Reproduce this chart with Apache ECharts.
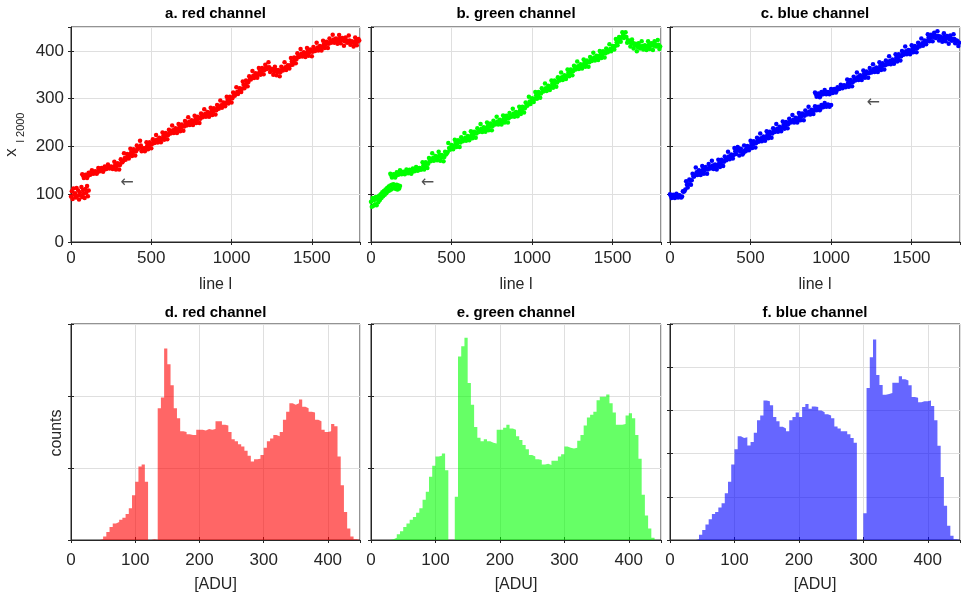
<!DOCTYPE html>
<html><head><meta charset="utf-8">
<script src="https://cdn.jsdelivr.net/npm/echarts@6/dist/echarts.min.js"></script>
<style>html,body{margin:0;padding:0;background:#fff}#c{width:961px;height:592px}</style>
</head><body><div id="c"></div>
<script>
// ---------------- DATA ----------------
// Panel titles
const titlesTop = ['a. red channel', 'b. green channel', 'c. blue channel'];
const titlesBottom = ['d. red channel', 'e. green channel', 'f. blue channel'];

// Scatter segments: line index = start + i*step, value = x_l,2000
const redSegA_start = 0, redSegA_step = 5;
const redSegA = [95,106,90,112,99,102,93,113,97,108,89,104,98,115,94,109,101,92,111,103,117,96,108];
const redSegB_start = 70, redSegB_step = 10;
const redSegB = [
142,134,141,134,145,141,150,143,148,143,
155,148,155,147,158,153,162,154,158,153,
168,152,165,152,173,167,186,172,184,175,
195,180,194,181,202,195,212,190,196,190,
209,194,209,196,215,207,224,208,218,209,
229,214,228,215,235,227,244,228,238,228,
247,232,246,233,253,244,261,245,255,245,
264,249,262,249,269,261,278,262,272,262,
281,266,280,267,287,279,296,281,292,284,
304,290,304,292,313,306,324,310,322,314,
336,322,338,326,347,340,358,343,353,344,
364,350,364,351,371,362,376,356,362,350,
367,349,360,347,367,359,376,360,370,363,
385,371,386,374,395,387,404,388,397,387,
406,390,403,389,408,400,417,401,410,401,
421,406,419,406,426,417,434,417,426,415,
433,416,427,411,428,417,432,413,420,409,
428,412,425];
const redSegC_start = 75, redSegC_step = 10;
const redSegC = [
139,137,140,138,142,143,146,145,147,146,
152,151,154,151,155,155,158,156,157,156,
161,159,162,161,167,170,176,177,182,182,
188,187,191,190,196,198,202,195,194,197,
202,201,206,205,209,210,214,213,216,216,
222,221,225,224,229,230,234,233,236,235,
240,239,243,242,247,247,251,250,253,252,
257,256,259,258,263,264,268,267,270,269,
274,273,277,276,281,282,286,286,290,291,
297,297,301,301,307,309,314,315,320,321,
329,329,335,335,341,343,348,348,351,351,
357,357,361,360,365,365,366,361,360,357,
360,356,357,356,361,362,366,365,368,370,
378,378,383,383,389,390,394,393,395,394,
399,397,400,398,402,403,407,406,408,408,
414,413,416,415,420,420,424,422,424,422,
426,423,424,420,422,420,422,418,418,416,
421,419,422];

const greenSegA_start = 0, greenSegA_step = 5;
const greenSegA = [84,74,92,76,88,79,94,77,90,83,97,88,100,92,104,96,107,99,110,102,113,106,116,108,118,110,120,112,121,113,119,111,120,110,118,112,117];
const greenSegB_start = 120, greenSegB_step = 10;
const greenSegB = [
143,135,142,135,146,141,150,142,147,142,
152,144,151,143,154,148,157,149,155,151,
167,152,167,155,176,169,186,170,180,171,
189,170,182,169,189,185,207,193,203,194,
214,199,213,199,219,211,228,212,222,213,
232,217,231,218,238,230,247,230,240,231,
250,234,248,234,254,246,262,246,256,246,
265,250,264,250,270,262,279,262,272,263,
283,268,283,271,292,285,304,289,301,293,
314,300,314,302,322,315,332,316,327,318,
338,323,338,325,345,338,355,339,349,341,
361,347,361,349,369,361,378,362,372,363,
382,367,380,367,387,379,396,380,390,381,
400,385,399,386,405,397,414,399,410,403,
425,412,429,419,439,427,439,417,422,409,
424,405,415,399,416,405,420,403,412,402,
420,404,416,402,420,409,423,404];
const greenSegC_start = 125, greenSegC_step = 10;
const greenSegC = [
140,138,141,139,143,143,146,144,146,145,
149,147,150,147,151,150,153,151,154,154,
160,159,164,164,170,172,176,175,178,178,
182,177,179,178,183,188,197,198,201,201,
207,206,210,208,213,214,218,217,220,220,
225,224,228,227,232,233,237,235,238,238,
243,241,245,243,248,249,252,251,254,253,
258,257,261,259,264,265,269,267,270,270,
276,275,280,280,286,288,294,294,299,300,
307,307,311,311,316,318,322,321,325,325,
331,330,335,334,339,341,345,344,347,348,
354,354,358,358,363,364,368,367,370,370,
375,374,377,376,381,382,386,385,388,388,
393,392,396,395,399,400,404,404,408,410,
418,419,426,428,433,430,429,422,420,416,
417,412,412,408,410,408,410,408,410,409,
413,411,413,411,414,412,413,409];

const blueSegA_start = 0, blueSegA_step = 10;
const blueSegA = [
100,92,99,92,101,93,98,93,106,107,
127,114,131,120,143,137,156,140,150,140,
159,143,157,143,163,154,170,153,162,152,
172,157,172,159,179,171,189,173,183,175,
197,184,199,181,195,183,202,190,201,192,
212,197,211,198,218,210,227,211,221,212,
232,217,231,218,238,230,247,231,241,232,
252,237,251,238,258,250,266,250,260,250,
270,255,269,255,275,267,283,267,277,268,
284,276,283,276,287,282,291,283,288,283,
287];
const blueSegC_start = 5, blueSegC_step = 10;
const blueSegC = [
97,95,98,96,98,95,94,95,105,110,
120,121,128,129,137,140,146,145,148,147,
152,150,154,152,157,157,160,158,160,159,
165,164,169,168,173,174,179,178,181,182,
190,191,196,190,189,186,192,195,199,199,
205,204,208,207,212,213,217,216,219,219,
225,224,228,227,232,233,237,236,239,239,
245,244,248,247,252,253,256,255,258,257,
263,262,266,264,269,270,273,272,275,275,
281,279,282,280,284,284,287,285,287,286];
const blueSegB_start = 900, blueSegB_step = 10;
const blueSegB = [
313,304,311,303,314,309,318,309,314,309,
320,312,320,313,324,320,329,322,328,324,
340,325,339,326,346,338,355,339,349,339,
359,344,357,344,364,355,372,356,365,356,
376,360,374,361,380,372,389,372,382,373,
393,378,393,380,400,392,409,393,402,393,
412,397,410,397,417,409,426,411,422,414,
435,420,434,420,438,427,441,422,430,419,
437,420,431,415,432,421,435,416,422,410];
const blueSegD_start = 905, blueSegD_step = 10;
const blueSegD = [
310,307,310,307,311,311,314,311,313,312,
317,315,319,317,321,322,325,324,327,327,
333,332,336,335,340,341,345,344,347,346,
352,351,354,353,358,358,362,361,363,363,
369,367,371,370,374,375,379,377,380,380,
386,385,390,389,394,395,399,398,400,400,
405,404,407,406,411,412,416,416,420,421,
428,427,431,429,432,430,431,427,428,426,
430,427,428,424,426,424,425,421,420,417];

// Arrow annotations (data coordinates: line, value)
const arrowPoints = [[348, 123], [350, 123], [1262, 292]];

// Histograms: bins of 5 ADU from 0 to 450 (90 bins), relative counts
const binWidth = 5;
const redCounts = [
0,0,0,0,0,0,0,0,0,1,
5,11,18,23,25,28,31,36,44,62,
81,102,105,81,0,1,0,183,198,266,
244,215,183,169,151,150,147,146,146,153,
153,152,154,153,154,165,165,160,159,150,
140,137,133,130,124,117,109,112,113,118,
128,137,141,146,144,150,167,178,190,188,
190,195,185,183,178,177,167,165,153,150,
151,161,158,116,76,39,16,5,1,0];
const greenCounts = [
0,0,0,0,0,0,1,3,8,12,
18,23,28,32,38,44,56,67,88,103,
116,117,120,97,0,0,60,255,269,281,
218,188,157,142,137,140,137,135,134,153,
153,156,160,155,153,144,139,132,126,118,
116,112,111,105,106,104,110,110,116,119,
130,128,127,128,138,146,159,170,174,178,
194,199,199,202,190,177,160,160,161,173,
176,169,146,113,63,34,16,3,0,0];
const blueCounts = [
0,0,0,0,0,0,0,0,2,12,
23,36,48,60,65,75,85,108,135,175,
210,240,236,238,219,227,248,277,288,323,
321,312,285,275,262,258,252,277,285,295,
285,308,315,304,309,308,300,296,291,288,
282,263,258,252,252,245,236,225,0,0,
62,352,423,464,382,359,336,338,340,364,
364,379,372,369,358,331,329,319,321,321,
323,310,277,218,146,79,33,10,2,0];

// Axis settings
const topX = {min: 0, max: 1800, interval: 500};
const topY = {min: 0, max: 450, interval: 100};
const botX = {min: 0, max: 450, interval: 100};
const botYmax = [300, 300, 500];

// ---------------- CHART ----------------
const FONT = '"Liberation Sans", Arial, Helvetica, sans-serif';
const AX = '#262626';
const GRIDC = '#dfdfdf';
const scatterColors = ['#ff0000', '#00ff00', '#0000ff'];
const histColors = ['rgba(255,0,0,0.6)', 'rgba(0,255,0,0.6)', 'rgba(0,0,255,0.6)'];
const lefts = [71, 371, 670];
const widths = [289, 290, 290];
const rowsLayout = [{top: 27, height: 215, labelMargin: 8, nameGap: 35}, {top: 324, height: 216, labelMargin: 12, nameGap: 37}];
const plain = v => String(v);

function pts(start, step, vals) { return vals.map((v, i) => [start + i * step, v]); }

const grids = [], xAxes = [], yAxes = [], series = [], graphics = [];

for (let r = 0; r < 2; r++) {
  for (let c = 0; c < 3; c++) {
    const g = r * 3 + c;
    grids.push({left: lefts[c], top: rowsLayout[r].top, width: widths[c], height: rowsLayout[r].height,
      show: true, borderColor: AX, borderWidth: 1, backgroundColor: 'transparent',
      containLabel: false, outerBoundsMode: 'none'});
    const xs = r === 0 ? topX : botX;
    const ymax = r === 0 ? topY.max : botYmax[c];
    xAxes.push({gridIndex: g, type: 'value', min: xs.min, max: xs.max, interval: xs.interval, position: 'bottom',
      axisLine: {show: true, onZero: false, lineStyle: {color: AX, width: 1}},
      axisTick: {show: true, inside: true, length: 3, lineStyle: {color: AX}},
      axisLabel: {show: true, showMaxLabel: false, margin: rowsLayout[r].labelMargin, fontSize: 17, color: AX, fontFamily: FONT, formatter: plain},
      splitLine: {show: true, lineStyle: {color: GRIDC, width: 1}},
      name: r === 0 ? 'line l' : '[ADU]', nameLocation: 'middle', nameGap: rowsLayout[r].nameGap,
      nameTextStyle: {fontSize: 16, color: AX, fontFamily: FONT}});
    xAxes.push({gridIndex: g, type: 'value', min: xs.min, max: xs.max, interval: xs.interval, position: 'top',
      axisLine: {show: false}, axisTick: {show: true, inside: true, length: 3, lineStyle: {color: AX}},
      axisLabel: {show: false}, splitLine: {show: false}});
    yAxes.push({gridIndex: g, type: 'value', min: 0, max: ymax, interval: 100, position: 'left',
      axisLine: {show: true, onZero: false, lineStyle: {color: AX, width: 1}},
      axisTick: {show: true, inside: true, length: 3, lineStyle: {color: AX}},
      axisLabel: {show: r === 0 && c === 0, showMaxLabel: false, margin: 7, fontSize: 17, color: AX, fontFamily: FONT, formatter: plain},
      splitLine: {show: true, lineStyle: {color: GRIDC, width: 1}}});
    yAxes.push({gridIndex: g, type: 'value', min: 0, max: ymax, interval: 100, position: 'right',
      axisLine: {show: false}, axisTick: {show: true, inside: true, length: 3, lineStyle: {color: AX}},
      axisLabel: {show: false}, splitLine: {show: false}});

    const cx = lefts[c] + widths[c] / 2;
    graphics.push({type: 'text', x: cx, y: r === 0 ? 14 : 313, silent: true,
      style: {text: r === 0 ? titlesTop[c] : titlesBottom[c], font: 'bold 15px ' + FONT, fill: '#000',
        align: 'center', verticalAlign: 'middle'}});
  }
}

const segs = [
  [[redSegA_start, redSegA_step, redSegA], [redSegB_start, redSegB_step, redSegB], [redSegC_start, redSegC_step, redSegC]],
  [[greenSegA_start, greenSegA_step, greenSegA], [greenSegB_start, greenSegB_step, greenSegB], [greenSegC_start, greenSegC_step, greenSegC]],
  [[blueSegA_start, blueSegA_step, blueSegA], [blueSegC_start, blueSegC_step, blueSegC], [blueSegB_start, blueSegB_step, blueSegB], [blueSegD_start, blueSegD_step, blueSegD]]
];
for (let c = 0; c < 3; c++) {
  segs[c].forEach(s => {
    series.push({type: 'scatter', xAxisIndex: 2 * c, yAxisIndex: 2 * c, data: pts(s[0], s[1], s[2]),
      symbol: 'circle', symbolSize: 4.5, itemStyle: {color: scatterColors[c], opacity: 1},
      silent: true, animation: false, clip: true});
  });
  series.push({type: 'scatter', xAxisIndex: 2 * c, yAxisIndex: 2 * c, data: [arrowPoints[c]],
    symbol: 'circle', symbolSize: 1, itemStyle: {color: 'rgba(0,0,0,0)'}, silent: true, animation: false,
    label: {show: true, position: 'inside', formatter: '\u2190', fontSize: 16,
      fontFamily: '"DejaVu Sans", sans-serif', color: AX}});
}
const hists = [redCounts, greenCounts, blueCounts];
for (let c = 0; c < 3; c++) {
  const g = 3 + c;
  const data = hists[c].map((v, k) => [k * binWidth, v]);
  data.push([hists[c].length * binWidth, 0]);
  series.push({type: 'line', xAxisIndex: 2 * g, yAxisIndex: 2 * g, data: data, step: 'end',
    symbol: 'none', showSymbol: false, lineStyle: {width: 0, opacity: 0},
    areaStyle: {color: histColors[c], opacity: 1}, silent: true, animation: false});
}

// axis labels drawn as text
graphics.push({type: 'text', x: 11, y: 152.5, rotation: Math.PI / 2, silent: true,
  style: {text: 'x', font: '17px ' + FONT, fill: AX, align: 'center', verticalAlign: 'middle'}});
graphics.push({type: 'text', x: 21, y: 127.5, rotation: Math.PI / 2, silent: true,
  style: {text: 'l 2000', font: '11px ' + FONT, fill: AX, align: 'center', verticalAlign: 'middle'}});
graphics.push({type: 'text', x: 57, y: 433, rotation: Math.PI / 2, silent: true,
  style: {text: 'counts', font: '16px ' + FONT, fill: AX, align: 'center', verticalAlign: 'middle'}});

const chart = echarts.init(document.getElementById('c'), null, {renderer: 'canvas'});
chart.setOption({
  animation: false,
  backgroundColor: '#ffffff',
  grid: grids, xAxis: xAxes, yAxis: yAxes, series: series, graphic: graphics
});
</script></body></html>
